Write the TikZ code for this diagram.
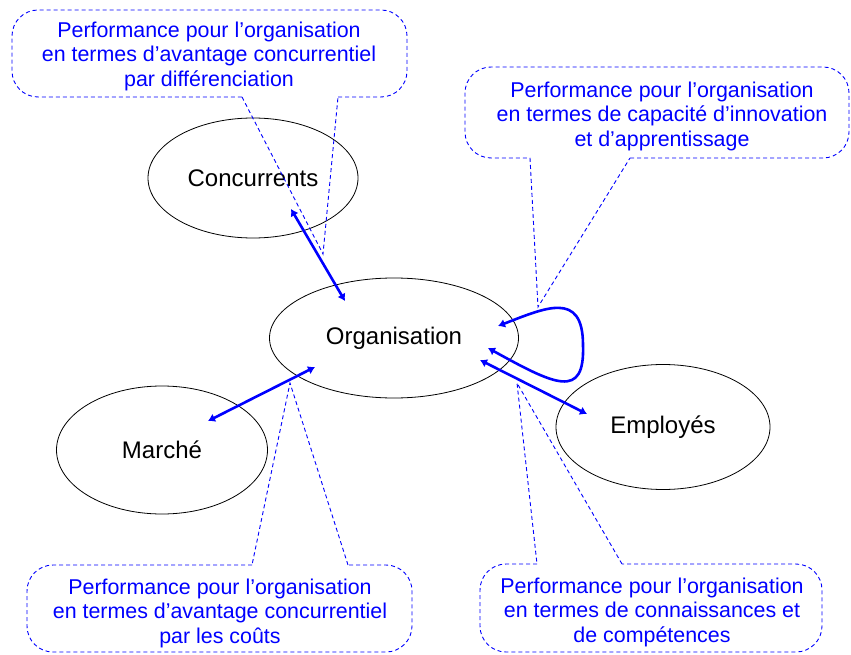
\documentclass[tikz,border=0pt]{standalone}
\usepackage{fontspec}
\setmainfont{Liberation Sans}
\usetikzlibrary{shapes.geometric,arrows.meta}

\tikzset{
	acteur/.style={draw, ellipse, inner sep=0pt, line width=0.8pt, font=\fontsize{24}{28}\selectfont},
	bulle/.style={blue, align=center, font=\fontsize{21.4}{24.5}\selectfont},
	contour/.style={blue, line width=0.9pt, dash pattern=on 4pt off 3pt},
	lien/.style={blue, line width=2.6pt, {Latex[length=7pt,width=9pt]}-{Latex[length=7pt,width=9pt]}}
}

\begin{document}
\begin{tikzpicture}[x=1pt,y=-1pt]
	\useasboundingbox (0,0) rectangle (851,655);
	%% acteurs
	\node[acteur, minimum width=210, minimum height=120] (conc) at (253,178) {Concurrents};
	\node[acteur, minimum width=249, minimum height=120] (org) at (394,338) {Organisation};
	\node[acteur, minimum width=211, minimum height=128] (marche) at (162,450) {Marché};
	\node[acteur, minimum width=214, minimum height=125] (empl) at (663,427) {Employés};

	%% bulles
	\node[bulle] (pdiff) at (209,56) {Performance pour l’organisation\\en termes d’avantage concurrentiel\\par différenciation};
	\node[bulle] (pinno) at (662,116) {Performance pour l’organisation\\en termes de capacité d’innovation\\et d’apprentissage};
	\node[bulle] (pcout) at (220,613) {Performance pour l’organisation\\en termes d’avantage concurrentiel\\par les coûts};
	\node[bulle] (pcomp) at (652,612) {Performance pour l’organisation\\en termes de connaissances et\\de compétences};

	%% pointes des bulles
	\coordinate (t1) at (323,254);
	\coordinate (t2) at (538,307);
	\coordinate (t3) at (290,383);
	\coordinate (t4) at (517,383);

	\draw[contour, rounded corners=26] (338,97) -- (407,97) -- (407,10) -- (12,10) -- (12,97) -- (242,97);
	\draw[contour] (242,97) -- (t1) -- (338,97);
	\draw[contour, rounded corners=26] (630,158) -- (849,158) -- (849,67) -- (465,67) -- (465,158) -- (530,158);
	\draw[contour] (530,158) -- (t2) -- (630,158);
	\draw[contour, rounded corners=26] (252,565) -- (27,565) -- (27,652) -- (412,652) -- (412,565) -- (348,565);
	\draw[contour] (348,565) -- (t3) -- (252,565);
	\draw[contour, rounded corners=26] (537,564) -- (480,564) -- (480,652) -- (822,652) -- (822,564) -- (622,564);
	\draw[contour] (622,564) -- (t4) -- (537,564);

	%% liens
	\coordinate (c1) at (291,209);
	\coordinate (c2) at (345,301);
	\coordinate (m1) at (208,421);
	\coordinate (m2) at (315,367);
	\coordinate (e1) at (480,360);
	\coordinate (e2) at (587,414);
	\coordinate (o1) at (498,326);
	\coordinate (o2) at (488,348);

	\draw[lien] (c1) -- (c2);
	\draw[lien] (m1) -- (m2);
	\draw[lien] (e1) -- (e2);
	% boucle sur l'organisation
	\draw[lien] (o1) .. controls (545,308) and (583,290) .. (583,345) .. controls (585,400) and (555,385) .. (o2);
\end{tikzpicture}
\end{document}
